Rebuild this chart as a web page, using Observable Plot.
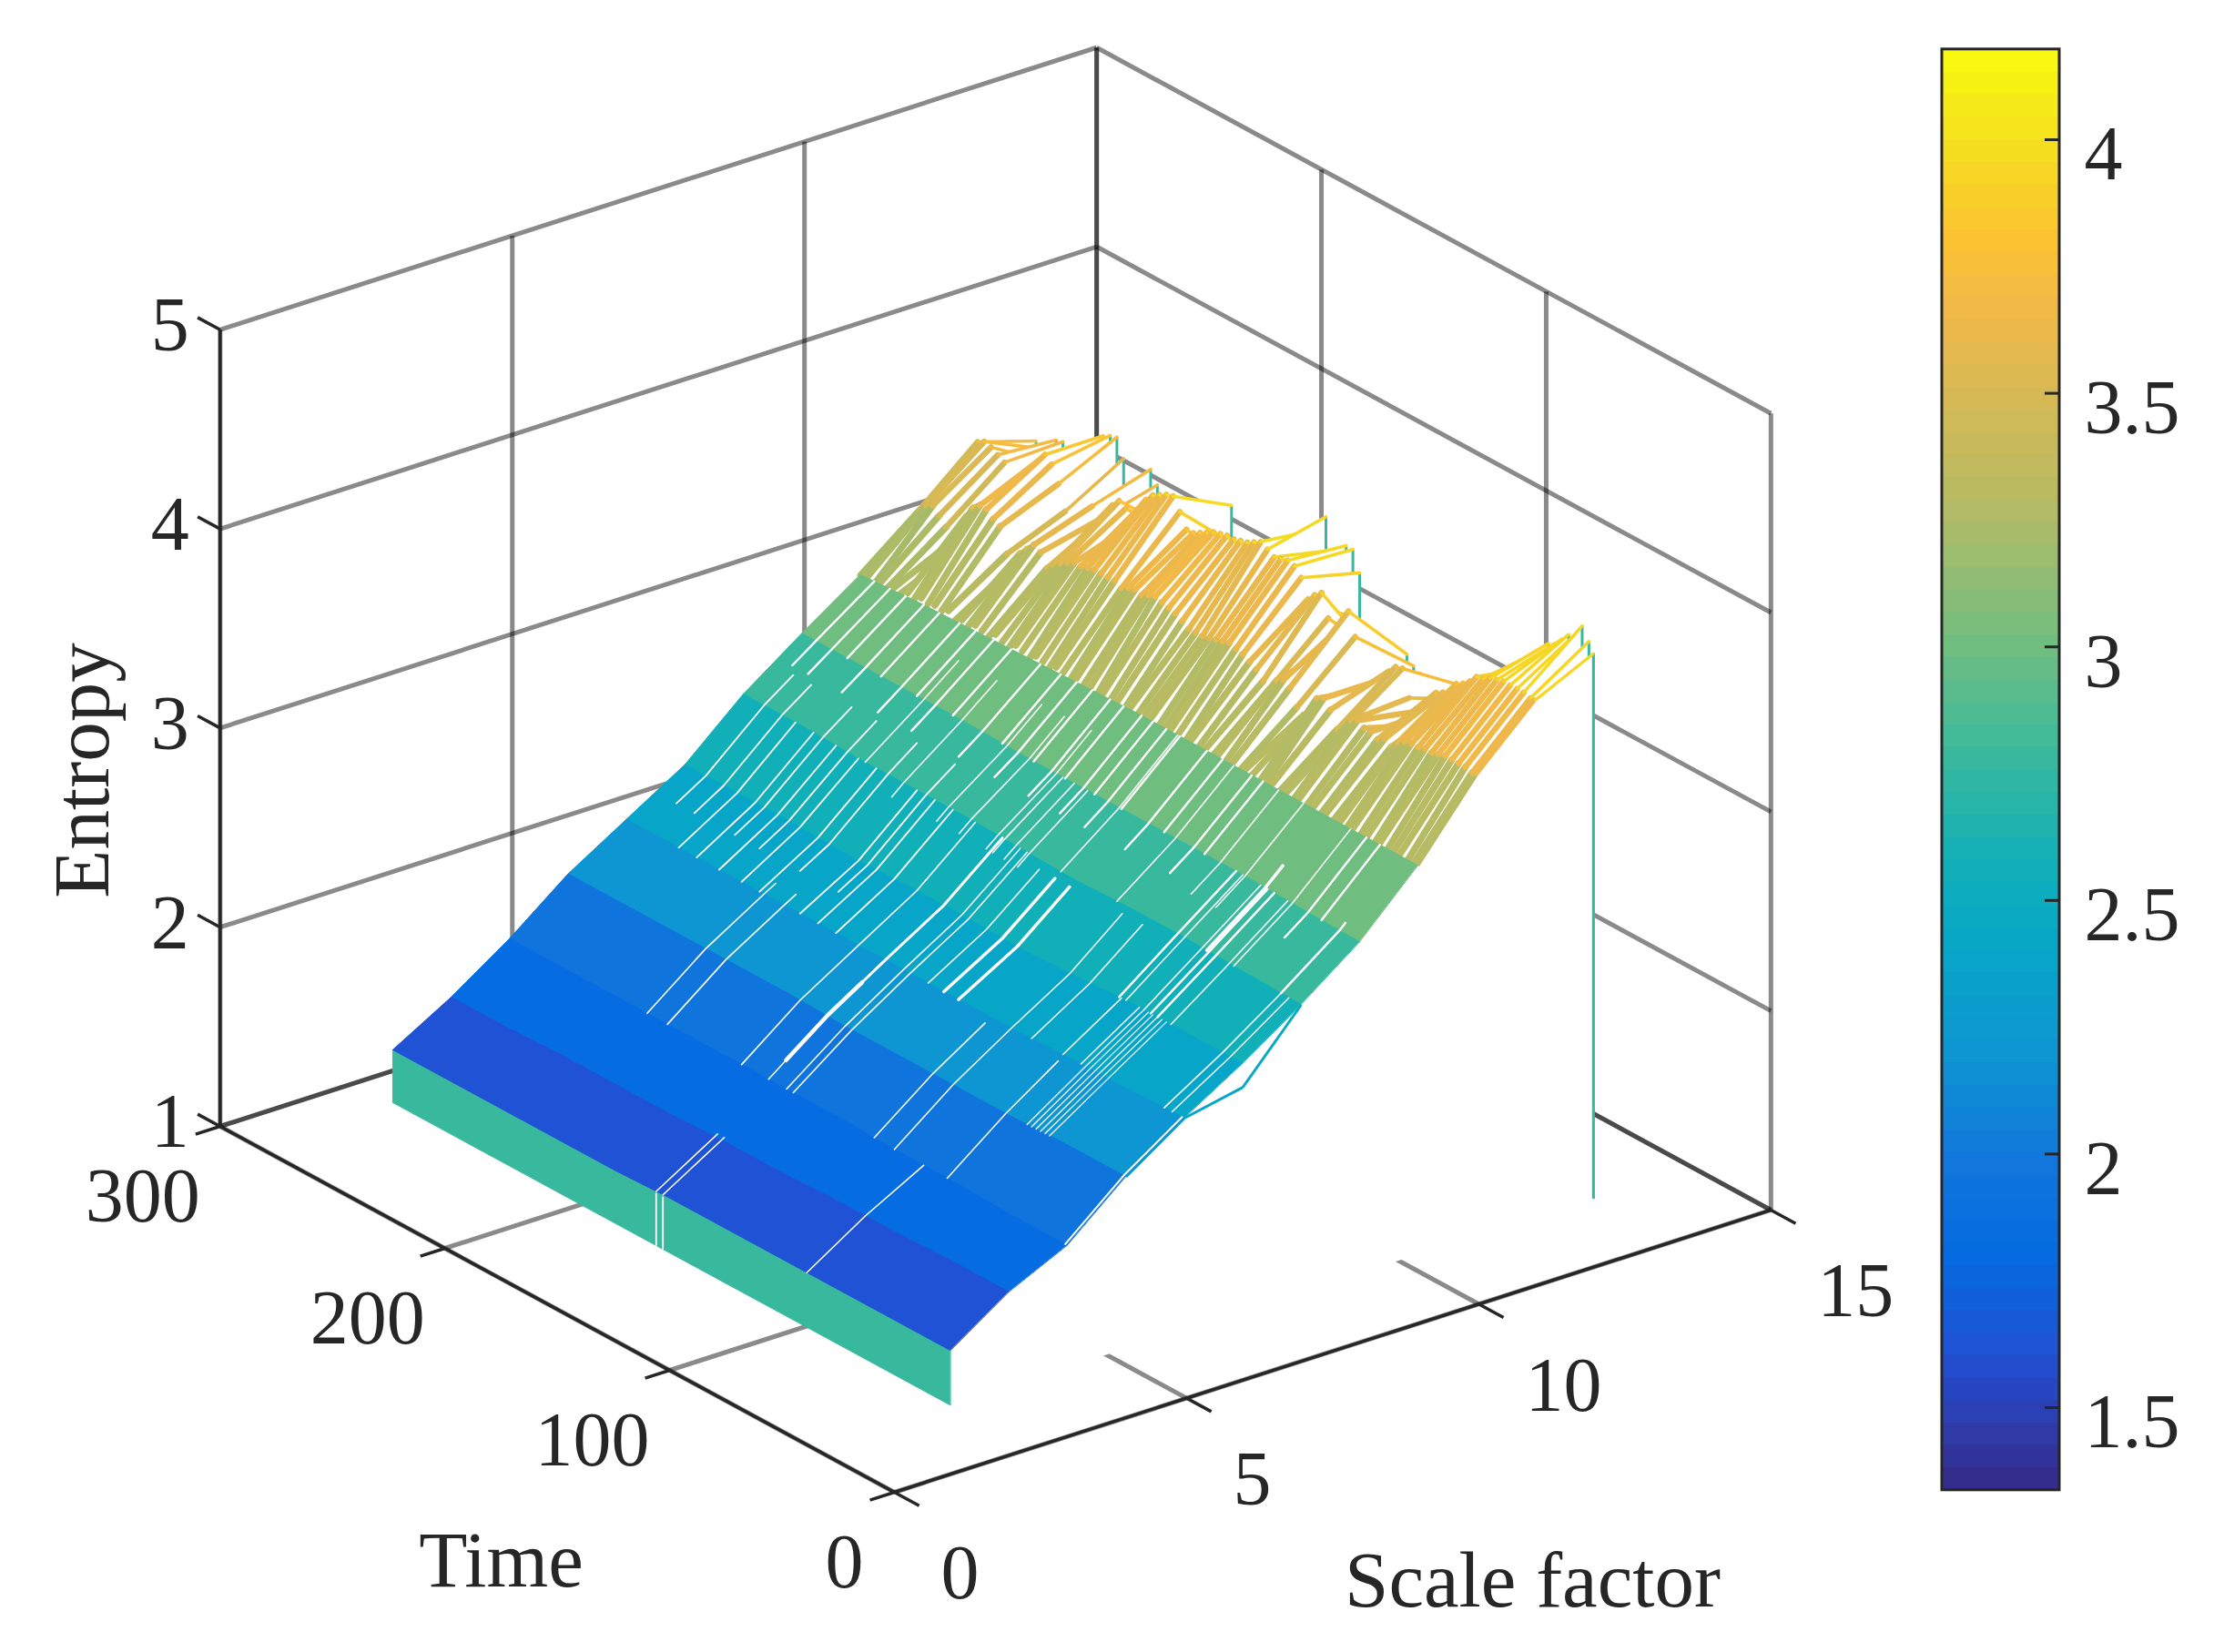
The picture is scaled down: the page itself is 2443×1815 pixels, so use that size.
<!DOCTYPE html>
<html><head><meta charset="utf-8">
<script src="https://cdn.jsdelivr.net/npm/d3@7"></script>
<script src="https://cdn.jsdelivr.net/npm/@observablehq/plot@0.6"></script>
<style>html,body{margin:0;padding:0;background:#fff}svg{display:block}</style>
</head><body><div id="chart"></div>
<script>
// ---------- data ----------
const zTicks = [1,2,3,4,5];
const timeTicks = [0,100,200,300];
const scaleTicks = [0,5,10,15];
const barTicks = [1.5,2,2.5,3,3.5,4];
const barLabels = ["1.5","2","2.5","3","3.5","4"];
const baseZ = 1.335;
const skirtZ = 2.78;
const barMin = 1.337, barMax = 4.178;

// colour map
const colourZ = [1.337,1.45,1.6,1.8,2.0,2.2,2.4,2.58,2.78,3.0,3.29,3.65,3.8,4.0,4.178];
const colourHex = ["#352a87","#2f3aa8","#2051d3","#056be1","#1278db","#0d96d2","#07a6c8","#11b0b8","#38b99e","#70bd80","#b7bb63","#efb84a","#fcc232","#f4e01e","#f9fb0e"];

// surface columns, scale factor 1..9, read at these times (entropy x100)
const bandTimes = [1,28,52,77,101,126,150,175,199,224,249];
const s1 = [161,161,161,161,161,161,160,160,160,160,160];
const s2 = [181,181,180,180,179,179,178,178,178,177,177];
const s3 = [195,195,196,196,197,197,197,197,197,197,197];
const s4 = [220,220,219,219,219,219,220,220,220,220,220];
const s5 = [240,239,239,238,238,238,238,238,238,238,238];
const s6 = [258,258,258,256,255,256,256,255,256,256,256];
const s7 = [278,279,280,280,279,280,281,281,281,282,282];
const s8 = [300,301,302,302,302,302,302,303,303,303,303];
const s9 = [329,329,329,329,329,329,328,327,326,325,323];

// the very first time slice (scale factor 1..12)
const frontRow = [161,181,195,220,240,246,278,300,329,365,393,407];

// rough ridge: individual time slices at scale factors 9,10,11,12
const ridgeT = [249,246,243,240,237,234,231,228,225,222,219,216,213,210,207,204,201,198,195,192,189,186,183,180,177,174,171,168,165,162,159,156,153,150,147,144,141,138,135,132,129,126,123,120,117,114,111,108,105,102,99,96,93,90,87,84,81,78,75,72,69,66,63,60,57,54,51,48,45,42,39,36,33,30,27,24,21,18,15,12,9,6,3,1];
const ridge9 = [323,324,322,325,324,326,325,327,326,328,327,328,327,329,326,328,327,329,328,327,330,328,327,330,329,327,330,329,328,330,329,327,330,328,329,327,330,328,329,327,330,328,329,330,327,328,330,329,327,330,328,329,327,330,328,329,327,330,329,327,328,330,328,329,327,330,328,329,327,330,328,329,328,330,328,329,327,330,328,329,330,328,329,329];
const ridge10 = [346,350,352,349,345,340,338,356,362,365,365,362,360,348,344,352,356,360,358,352,355,358,360,362,362,363,364,364,364,364,362,364,365,364,366,367,366,365,364,362,360,360,360,361,362,363,364,363,362,360,358,354,352,358,360,358,350,348,352,360,362,358,350,352,358,360,358,358,356,358,356,360,362,363,363,364,364,365,366,366,366,366,365,365];
const ridge11 = [371,373,372,370,368,360,352,358,366,378,383,380,372,360,352,355,362,370,365,368,376,380,378,372,382,388,392,394,396,397,391,384,384,386,388,390,391,392,392,393,394,396,398,396,394,395,396,395,391,382,386,389,378,366,378,387,376,352,350,356,362,368,372,373,360,355,350,358,370,372,367,380,382,385,389,390,392,393,394,394,394,394,393,393];
const ridge12 = [362,360,355,368,369,358,350,352,360,380,383,385,386,377,362,365,368,379,373,360,362,355,352,350,350,352,355,360,376,383,364,350,345,345,342,340,340,342,345,350,360,375,395,403,388,375,394,394,384,360,350,345,348,352,355,356,352,350,345,345,342,348,350,355,350,345,342,345,350,352,352,360,365,375,385,395,400,402,406,410,412,418,412,407];

// white slits between neighbouring time slices: time, from and to scale factor, width
const slitT  = [132,129,65,188,179,146,134,134,134,126,123,87,78,54.5,115,108,101.5,69,45,43,41,39,37,35,55,47,10,6.5,2,56,53,45,42,39,33,83,108,52,63,43,31,10,122,128,133,136,148,158,178,195,226,218,208,198,190,172,164,156,243,236,229,221,214,205,198,190,182,169,160,153,146,138,132,124,119,113,107,95,88,75,70,24,18,240,232,214,203,185,168];
const slitS0 = [1,1,1,3,3,3,3,3.3,4.6,3,3,3,3,3,5,5,5,5,4,4,4,4,4,4,5,5,5,5,3,6,6,6,6,6,6,7,7,7.5,7.5,7,7,7,6.8,6.8,6.8,6.8,6.8,6.8,6.8,7,5,5,5,5,5,5,5,5,7.6,7.6,8,7.6,8,7.6,8,7.6,8,7.6,8,7.6,8,7.6,8,7.6,8,7.6,8,7.6,8,7.6,8,7.6,8,5.5,5.5,5.5,5.5,5.5,5.5];
const slitS1 = [2.05,2.05,3,5.2,5.2,7,3.3,4.6,7,7,7,4.9,6.9,4.9,6.9,6.9,6.9,6.9,6,6,6,6,6,6,6,6,7,7,5,8,8,8,8,8,8,9,9,9,9,8.3,9,8.1,8,8,8,8.6,8.6,8.6,8.6,8.6,7,7,7,7,7,7,7,7,9,9,9,9,9,9,9,9,9,9,9,9,9,9,9,9,9,9,9,9,9,9,9,9,9,7.5,7.5,7.5,7.5,7.5,7.5];
const slitW  = [1.6,1.6,1.6,1.6,1.6,1.6,1.5,4.5,3,1.5,1.5,1.5,1.5,1.5,1.5,3.5,3.5,1.5,1.2,1.2,1.2,1.2,1.2,1.2,1.5,1.5,1.5,1.5,2,2.5,1.5,1.5,2.5,2.5,1.5,1.5,1.5,1.5,1.5,3.5,1.5,2.5,1.5,1.5,1.5,1.5,1.5,1.5,1.5,1.5,1.8,1.8,1.8,1.8,1.8,1.8,1.8,1.8,2.4,2.4,2.4,2.4,2.4,2.4,2.4,2.4,2.4,2.4,2.4,2.4,2.4,2.4,2.4,2.4,2.4,2.4,2.4,2.4,2.4,2.4,2.4,2.4,2.4,1.8,1.8,1.8,1.8,1.8,1.8];

// ---------- 3-D view (same linear view for every mark) ----------
const view = {x0:982, sx:64.19, tx:-2.469, y0:1639, sy:-20.67, ty:-1.34, zy:-218.8};
const px = (s,t) => view.x0 + view.sx*s + view.tx*t;
const py = (s,t,z) => view.y0 + view.sy*s + view.ty*t + view.zy*(z-1);

const columns = [s1,s2,s3,s4,s5,s6,s7,s8,s9];
const colAt = (k,t) => {           // place on the drawn surface, for locating a slit
  const i = d3.bisectLeft(bandTimes,t);
  const j = Math.max(1,Math.min(bandTimes.length-1,i));
  const f = (t-bandTimes[j-1])/(bandTimes[j]-bandTimes[j-1]);
  return (columns[k][j-1]*(1-f)+columns[k][j]*f)/100;
};
const surfZ = (s,t) => {
  const a = Math.min(7,Math.floor(s-1)), f = s-1-a;
  return colAt(a,t)*(1-f)+colAt(a+1,t)*f;
};

// ---------- grid & axes ----------
const L = (s0,t0,z0,s1_,t1,z1) => ({s0,t0,z0,s1:s1_,t1,z1});
const grid = [
  ...zTicks.map(z=>L(0,300,z,15,300,z)),
  ...zTicks.map(z=>L(15,300,z,15,0,z)),
  ...scaleTicks.map(s=>L(s,300,1,s,300,5)),
  ...timeTicks.map(t=>L(15,t,1,15,t,5)),
  ...timeTicks.map(t=>L(0,t,1,15,t,1)),
  ...scaleTicks.map(s=>L(s,0,1,s,300,1))
];
const axes = [L(0,0,1,15,0,1),L(0,0,1,0,300,1),L(0,300,1,0,300,5),
  ...timeTicks.map(t=>L(0,t,1,-0.42,t,1)),
  ...scaleTicks.map(s=>L(s,0,1,s,-11,1)),
  ...zTicks.map(z=>L(0,300,z,0,310,z))];
const linkOf = d => ({x1:l=>px(l.s0,l.t0),y1:l=>py(l.s0,l.t0,l.z0),x2:l=>px(l.s1,l.t1),y2:l=>py(l.s1,l.t1,l.z1),...d});

// ---------- surface marks ----------
const ridgeMarks = ridgeT.flatMap((t,i)=>{
  const zs = [ridge9[i],ridge10[i],ridge11[i],ridge12[i]].map(v=>v/100);
  const pts = zs.map((z,k)=>({s:9+k,z}));
  const segs = pts.slice(0,3).map((p,k)=>({a:p,b:pts[k+1],w:[7.4,6.4,3.6][k]}));
  return [
    Plot.area(pts,{x1:d=>px(d.s,t),y1:d=>py(d.s,t,d.z),x2:d=>px(d.s,t),y2:d=>py(d.s,t,baseZ),fill:"white"}),
    Plot.link([pts[3]],{x1:d=>px(d.s,t),y1:d=>py(d.s,t,d.z),x2:d=>px(d.s,t),y2:d=>py(d.s,t,baseZ),stroke:()=>skirtZ,strokeWidth:3}),
    Plot.link(segs,{x1:d=>px(d.a.s,t),y1:d=>py(d.a.s,t,d.a.z),x2:d=>px(d.b.s,t),y2:d=>py(d.b.s,t,d.b.z),stroke:d=>d.a.z,strokeWidth:d=>d.w,strokeLinecap:"round"})
  ];
});
const frontPts = frontRow.map((v,k)=>({s:k+1,z:v/100}));
const frontMark = [
  Plot.area(frontPts,{x1:d=>px(d.s,1),y1:d=>py(d.s,1,d.z),x2:d=>px(d.s,1),y2:d=>py(d.s,1,baseZ),fill:"white"}),
  Plot.link([frontPts[11]],{x1:d=>px(d.s,1),y1:d=>py(d.s,1,d.z),x2:d=>px(d.s,1),y2:d=>py(d.s,1,baseZ),stroke:()=>skirtZ,strokeWidth:3}),
  Plot.link(frontPts.slice(8,11),{x1:d=>px(d.s,1),y1:d=>py(d.s,1,d.z),x2:d=>px(d.s+1,1),y2:d=>py(d.s+1,1,frontPts[d.s].z),stroke:d=>d.z,strokeWidth:3}),
];
const frontEdge = Plot.link(frontPts.slice(3,6),{x1:d=>px(d.s,1),y1:d=>py(d.s,1,d.z),x2:d=>px(d.s+1,1),y2:d=>py(d.s+1,1,frontPts[d.s].z),stroke:d=>d.z,strokeWidth:3});
const skirt = Plot.area(bandTimes,{x1:t=>px(1,t),y1:t=>py(1,t,s1[bandTimes.indexOf(t)]/100),x2:t=>px(1,t),y2:t=>py(1,t,baseZ),fill:()=>skirtZ,stroke:()=>skirtZ,strokeWidth:1});
const ribbons = d3.range(8).reverse().map(k=>Plot.area(bandTimes,{
  x1:t=>px(k+1,t),y1:t=>py(k+1,t,columns[k][bandTimes.indexOf(t)]/100),
  x2:t=>px(k+2,t),y2:t=>py(k+2,t,columns[k+1][bandTimes.indexOf(t)]/100),
  fill:()=>columns[k][0]/100,stroke:()=>columns[k][0]/100,strokeWidth:1}));

const slits = slitT.map((t,i)=>{
  const a=slitS0[i], b=slitS1[i];
  const ss=[a,...d3.range(Math.ceil(a+1e-6),b),b];
  return Plot.line(ss,{x:s=>px(s,t),y:s=>py(s,t,surfZ(s,t)),stroke:"white",strokeWidth:slitW[i]});
});
const skirtSlits = Plot.link([132,129],{x1:t=>px(1,t),y1:t=>py(1,t,1.6),x2:t=>px(1,t),y2:t=>py(1,t,baseZ),stroke:"white",strokeWidth:1.8});

// ---------- colour bar (in its own linear view) ----------
const barY = z => 153 + (4-z)*557.2;
const barSteps = d3.range(64).map(i=>barMin+(barMax-barMin)*i/64);
const barStep = (barMax-barMin)/64;
const ink = "#262626", font = "Liberation Serif";
const T = {fontFamily:font,fontSize:87,fill:ink};   // axis titles
const D = {fontFamily:font,fontSize:84,fill:ink};   // tick labels

const chart = Plot.plot({
  width:2443,height:1815,margin:0,
  x:{domain:[0,2443],range:[0,2443],axis:null},
  y:{domain:[0,1815],range:[0,1815],axis:null},
  color:{type:"linear",domain:colourZ,range:colourHex},
  style:{background:"#fff"},
  marks:[
    Plot.link(grid,linkOf({stroke:"#000",strokeOpacity:.46,strokeWidth:5})),
    ...ridgeMarks,
    ...frontMark,
    skirt,
    ...ribbons,
    ...slits,
    skirtSlits,
    frontEdge,
    Plot.link(axes,linkOf({stroke:ink,strokeWidth:3.5})),
    Plot.text(zTicks,{x:z=>px(0,300),y:z=>py(0,300,z),text:d=>String(d),textAnchor:"end",dx:-34,dy:-4,...D}),
    Plot.text(timeTicks.filter(t=>t>0),{x:t=>px(0,t),y:t=>py(0,t,1),text:d=>String(d),textAnchor:"end",dx:-22,dy:78,...D}),
    Plot.text(timeTicks.filter(t=>t==0),{x:t=>px(0,t),y:t=>py(0,t,1),text:d=>String(d),textAnchor:"end",dx:-34,dy:78,...D}),
    Plot.text(scaleTicks,{x:s=>px(s,0),y:s=>py(s,0,1),text:d=>String(d),textAnchor:"start",dx:51,dy:90,...D}),
    Plot.text(["Time"],{frameAnchor:"top-left",dx:550,dy:1715,text:d=>d,textAnchor:"middle",lineAnchor:"middle",...T}),
    Plot.text(["Scale factor"],{frameAnchor:"top-left",dx:1683,dy:1737,text:d=>d,textAnchor:"middle",lineAnchor:"middle",...T}),
    Plot.text(["Entropy"],{frameAnchor:"top-left",dx:91,dy:846,rotate:-90,text:d=>d,textAnchor:"middle",lineAnchor:"middle",...T}),
    // colour bar
    Plot.rect(barSteps,{x1:2133,x2:2262,y1:z=>barY(z),y2:z=>barY(z+barStep)-0.5,fill:z=>z+barStep/2,stroke:z=>z+barStep/2,strokeWidth:.6}),
    Plot.rect([0],{x1:2133,x2:2262,y1:barY(barMin),y2:barY(barMax),stroke:ink,strokeWidth:3,fill:"none"}),
    Plot.ruleY(barTicks,{y:barY,x1:2246,x2:2262,stroke:ink,strokeWidth:3}),
    Plot.text(barTicks,{x:2289,y:barY,text:(d,i)=>barLabels[i],textAnchor:"start",dy:17,...D})
  ]
});
document.getElementById("chart").append(chart);
</script>
</body></html>
